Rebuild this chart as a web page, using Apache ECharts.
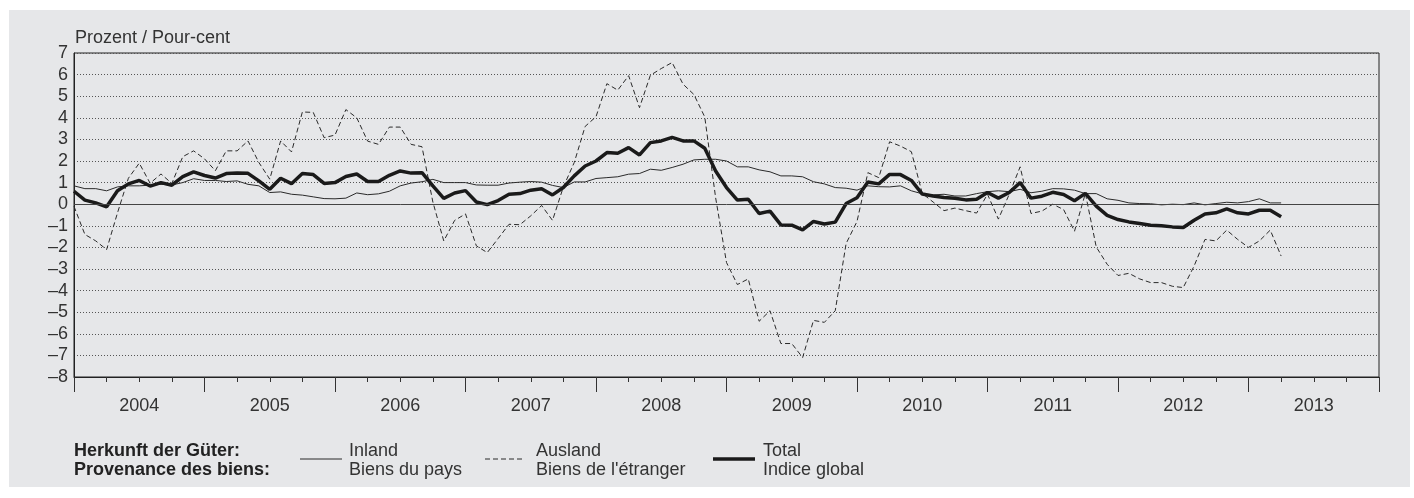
<!DOCTYPE html>
<html>
<head>
<meta charset="utf-8">
<script src="https://cdn.jsdelivr.net/npm/echarts@6/dist/echarts.min.js"></script>
<style>
  html, body { margin: 0; padding: 0; background: #fff; }
  #chart { width: 1414px; height: 498px; }
</style>
</head>
<body>
<div id="chart"></div>
<script>
// Monatswerte Jan 2004 - Apr 2013, Veränderung gegenüber Vorjahr in %
var years = ['2004','2005','2006','2007','2008','2009','2010','2011','2012','2013'];

var inland = [
  0.85, 0.72, 0.72, 0.62, 0.80, 0.85, 0.85, 0.88, 0.92, 0.89, 1.00, 1.18,
  1.10, 1.10, 1.05, 1.08, 0.92, 0.85, 0.54, 0.57, 0.46, 0.42, 0.34, 0.26,
  0.25, 0.28, 0.52, 0.44, 0.48, 0.60, 0.85, 0.98, 1.04, 1.15, 1.00, 1.00,
  1.00, 0.89, 0.88, 0.88, 0.98, 1.02, 1.05, 1.02, 0.87, 0.77, 1.03, 1.03,
  1.19, 1.23, 1.27, 1.39, 1.42, 1.62, 1.57, 1.70, 1.85, 2.05, 2.08, 2.08,
  2.00, 1.73, 1.73, 1.59, 1.50, 1.31, 1.31, 1.27, 1.04, 0.94, 0.77, 0.74,
  0.65, 0.85, 0.81, 0.80, 0.85, 0.62, 0.48, 0.43, 0.46, 0.38, 0.38, 0.49,
  0.58, 0.62, 0.58, 0.69, 0.53, 0.60, 0.72, 0.71, 0.65, 0.49, 0.49, 0.25,
  0.18, 0.06, 0.03, 0.02, -0.03, 0.00, -0.02, 0.06, -0.03, 0.03, 0.09, 0.06,
  0.12, 0.25, 0.06, 0.06
];

var ausland = [
  -0.10, -1.40, -1.70, -2.10, -0.40, 1.20, 1.90, 0.97, 1.40, 0.96, 2.20, 2.47,
  2.10, 1.55, 2.47, 2.47, 2.93, 1.93, 1.16, 2.93, 2.42, 4.27, 4.25, 3.08,
  3.20, 4.38, 4.00, 2.92, 2.77, 3.57, 3.57, 2.77, 2.66, 0.10, -1.70, -0.75,
  -0.45, -1.93, -2.24, -1.59, -0.93, -0.95, -0.54, -0.06, -0.75, 0.80, 1.93, 3.60,
  4.05, 5.58, 5.28, 5.95, 4.47, 5.97, 6.28, 6.56, 5.56, 5.08, 4.04, 0.30,
  -2.70, -3.72, -3.46, -5.42, -4.93, -6.45, -6.45, -7.10, -5.38, -5.47, -4.93, -1.82,
  -0.80, 1.46, 1.23, 2.89, 2.69, 2.43, 0.50, 0.10, -0.30, -0.18, -0.30, -0.41,
  0.46, -0.69, 0.46, 1.73, -0.43, -0.32, 0.00, -0.25, -1.25, 0.50, -1.98, -2.78,
  -3.30, -3.20, -3.46, -3.63, -3.63, -3.80, -3.86, -2.86, -1.63, -1.70, -1.20, -1.63,
  -2.00, -1.70, -1.20, -2.40
];

var total = [
  0.60, 0.19, 0.06, -0.12, 0.62, 0.94, 1.10, 0.84, 1.00, 0.88, 1.28, 1.50,
  1.33, 1.21, 1.42, 1.45, 1.43, 1.08, 0.69, 1.20, 0.95, 1.42, 1.37, 0.96,
  1.00, 1.28, 1.40, 1.05, 1.05, 1.34, 1.54, 1.44, 1.46, 0.85, 0.27, 0.52,
  0.63, 0.10, -0.02, 0.17, 0.46, 0.49, 0.65, 0.72, 0.43, 0.77, 1.31, 1.77,
  2.00, 2.39, 2.36, 2.62, 2.28, 2.85, 2.93, 3.09, 2.93, 2.93, 2.59, 1.54,
  0.77, 0.19, 0.23, -0.43, -0.32, -0.96, -0.97, -1.19, -0.80, -0.92, -0.83, 0.03,
  0.30, 1.03, 0.94, 1.38, 1.37, 1.10, 0.47, 0.38, 0.31, 0.28, 0.20, 0.23,
  0.54, 0.28, 0.54, 1.00, 0.28, 0.37, 0.55, 0.45, 0.16, 0.50, -0.09, -0.52,
  -0.71, -0.82, -0.89, -0.97, -1.00, -1.05, -1.08, -0.74, -0.45, -0.40, -0.22, -0.40,
  -0.45, -0.28, -0.28, -0.58
];

// Monatskategorien Jan 2004 .. Jan 2014 (Achsenende)
var months = [];
years.forEach(function (y) {
  for (var m = 1; m <= 12; m++) {
    months.push(y + '-' + (m < 10 ? '0' + m : m));
  }
});
months.push('2014-01');

var font = 'Liberation Sans';
var ink = '#2a2a2a';
var fs = 18;

var chart = echarts.init(document.getElementById('chart'));

var legendY1 = 451, legendY2 = 470, legendLineY = 459;

function txt(x, y, s, bold) {
  return {
    type: 'text', x: x, y: y,
    style: {
      text: s, font: (bold ? 'bold ' : '') + fs + 'px ' + font,
      fill: bold ? '#222' : '#333', textVerticalAlign: 'middle'
    }
  };
}

var option = {
  animation: false,
  textStyle: { fontFamily: font },
  grid: {
    left: 74, right: 35, top: 53, bottom: 121,
    show: true, borderColor: '#222', borderWidth: 1
  },
  graphic: [
    { type: 'rect', z: -10, silent: true,
      shape: { x: 9, y: 10, width: 1401, height: 477 },
      style: { fill: '#e6e7e9' } },
    txt(75, 38, 'Prozent / Pour-cent'),
    // Legende
    txt(74, legendY1, 'Herkunft der Güter:', true),
    txt(74, legendY2, 'Provenance des biens:', true),
    { type: 'line', shape: { x1: 300, y1: legendLineY, x2: 342, y2: legendLineY },
      style: { stroke: ink, lineWidth: 1 } },
    txt(349, legendY1, 'Inland'),
    txt(349, legendY2, 'Biens du pays'),
    { type: 'line', shape: { x1: 485, y1: legendLineY, x2: 525, y2: legendLineY },
      style: { stroke: ink, lineWidth: 1, lineDash: [5, 3] } },
    txt(536, legendY1, 'Ausland'),
    txt(536, legendY2, "Biens de l'étranger"),
    { type: 'line', shape: { x1: 713, y1: legendLineY, x2: 755, y2: legendLineY },
      style: { stroke: '#1a1a1a', lineWidth: 3.5 } },
    txt(763, legendY1, 'Total'),
    txt(763, legendY2, 'Indice global')
  ],
  xAxis: [
    {
      type: 'category',
      data: months,
      boundaryGap: false,
      axisLine: { onZero: false, lineStyle: { color: '#222', width: 1 } },
      axisTick: {
        interval: function (i) { return i % 12 === 0; },
        length: 15,
        lineStyle: { color: '#333', width: 1 }
      },
      axisLabel: { show: false },
      splitLine: { show: false }
    },
    {
      type: 'category',
      data: months,
      boundaryGap: false,
      position: 'bottom',
      axisLine: { show: false, onZero: false },
      axisTick: {
        interval: function (i) { return i % 3 === 0 && i % 12 !== 0; },
        length: 5,
        lineStyle: { color: '#333', width: 1 }
      },
      axisLabel: {
        interval: function (i) { return i % 12 === 6; },
        formatter: function (v) { return v.slice(0, 4); },
        fontSize: fs,
        color: '#333',
        margin: 20
      },
      splitLine: { show: false }
    }
  ],
  yAxis: {
    type: 'value',
    min: -8, max: 7, interval: 1,
    axisLine: { show: true, onZero: false, lineStyle: { color: '#222', width: 1 } },
    axisTick: { show: false },
    axisLabel: {
      fontSize: fs, color: '#333', margin: 6,
      formatter: function (v) { return v < 0 ? '\u2013' + Math.abs(v) : String(v); }
    },
    splitLine: { lineStyle: { color: '#555', width: 1, type: [1, 2] } }
  },
  series: [
    {
      name: 'Inland', type: 'line', data: inland, xAxisIndex: 0,
      symbol: 'none', z: 3,
      lineStyle: { color: ink, width: 1 },
      markLine: {
        silent: true, symbol: 'none', label: { show: false },
        lineStyle: { color: '#444', width: 1, type: 'solid' },
        data: [{ yAxis: 0 }]
      }
    },
    {
      name: 'Ausland', type: 'line', data: ausland, xAxisIndex: 0,
      symbol: 'none', z: 3,
      lineStyle: { color: ink, width: 1, type: [5, 3] }
    },
    {
      name: 'Total', type: 'line', data: total, xAxisIndex: 0,
      symbol: 'none', z: 4,
      lineStyle: { color: '#1a1a1a', width: 3.5 }
    }
  ]
};

chart.setOption(option);
</script>
</body>
</html>
